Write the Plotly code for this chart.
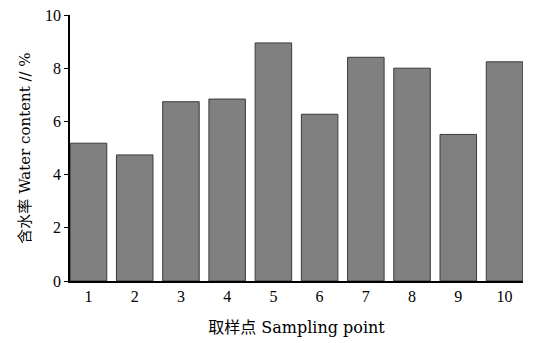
import plotly.graph_objects as go

points = [1, 2, 3, 4, 5, 6, 7, 8, 9, 10]
water_content = [5.18, 4.74, 6.74, 6.84, 8.95, 6.27, 8.41, 8.00, 5.51, 8.24]
y_ticks = [0, 2, 4, 6, 8, 10]

tick_font = "Liberation Serif, serif"
title_font = "DejaVu Serif, Noto Sans CJK SC, serif"

fig = go.Figure(go.Bar(
    x=points, y=water_content, width=0.79,
    marker=dict(color="#808080", line=dict(color="#3a3a3a", width=1)),
))

fig.update_layout(
    width=533, height=343,
    margin=dict(l=70, r=10, t=15, b=62),
    paper_bgcolor="white", plot_bgcolor="white",
    showlegend=False,
    font=dict(family=tick_font, size=16, color="black"),
)
fig.update_xaxes(
    range=[0.6, 10.4], tickvals=points, ticktext=[str(p) for p in points],
    showline=True, linecolor="black", linewidth=1.5, ticks="", showgrid=False,
    zeroline=False, automargin=False,
    title=dict(text="取样点 Sampling point", font=dict(size=16, family=title_font), standoff=18),
)
fig.update_yaxes(
    range=[0, 10], tickvals=y_ticks, ticktext=[str(v) for v in y_ticks],
    showline=True, linecolor="black", linewidth=1.5, ticks="outside", ticklen=4,
    tickcolor="black", showgrid=False, zeroline=False, automargin=False,
    title=dict(text="含水率 Water content // %", font=dict(size=15, family=title_font), standoff=11),
)

fig.write_html("out.html", config={"displayModeBar": False},
               post_script="document.body.style.margin='0';")
